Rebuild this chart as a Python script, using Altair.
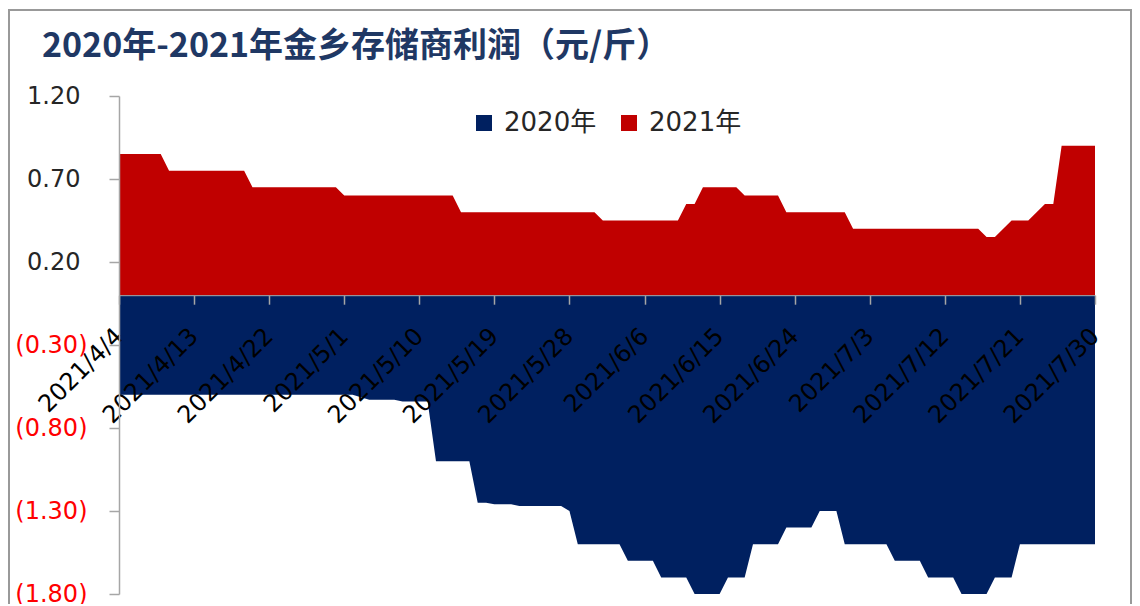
import altair as alt
import pandas as pd

# ---- data ----
start_date = "2021-04-04"
end_date = "2021-07-30"
tick_dates = ["2021-04-04", "2021-04-13", "2021-04-22", "2021-05-01", "2021-05-10",
              "2021-05-19", "2021-05-28", "2021-06-06", "2021-06-15", "2021-06-24",
              "2021-07-03", "2021-07-12", "2021-07-21", "2021-07-30"]
series_names = ["2020年", "2021年"]
series_colors = ["#002060", "#C00000"]
y_ticks = [1.2, 0.7, 0.2, -0.3, -0.8, -1.3, -1.8]
title_text = "2020年-2021年金乡存储商利润（元/斤）"

profit_2021 = [
    0.85, 0.85, 0.85, 0.85, 0.85, 0.85,
    0.75, 0.75, 0.75, 0.75, 0.75, 0.75, 0.75, 0.75, 0.75, 0.75,
    0.65, 0.65, 0.65, 0.65, 0.65, 0.65, 0.65, 0.65, 0.65, 0.65, 0.65,
    0.60, 0.60, 0.60, 0.60, 0.60, 0.60, 0.60, 0.60, 0.60, 0.60, 0.60, 0.60, 0.60, 0.60,
    0.50, 0.50, 0.50, 0.50, 0.50, 0.50, 0.50, 0.50, 0.50, 0.50, 0.50, 0.50, 0.50, 0.50, 0.50, 0.50, 0.50,
    0.45, 0.45, 0.45, 0.45, 0.45, 0.45, 0.45, 0.45, 0.45, 0.45,
    0.55, 0.55,
    0.65, 0.65, 0.65, 0.65, 0.65,
    0.60, 0.60, 0.60, 0.60, 0.60,
    0.50, 0.50, 0.50, 0.50, 0.50, 0.50, 0.50, 0.50,
    0.40, 0.40, 0.40, 0.40, 0.40, 0.40, 0.40, 0.40, 0.40, 0.40, 0.40, 0.40, 0.40, 0.40, 0.40, 0.40,
    0.35, 0.35,
    0.40,
    0.45, 0.45, 0.45,
    0.50,
    0.55, 0.55,
    0.90, 0.90, 0.90, 0.90, 0.90,
]

profit_2020 = [
    -0.60, -0.60, -0.60, -0.60, -0.60, -0.60, -0.60, -0.60, -0.60, -0.60,
    -0.60, -0.60, -0.60, -0.60, -0.60, -0.60, -0.60, -0.60, -0.60, -0.60,
    -0.60, -0.60, -0.60, -0.60, -0.60, -0.60, -0.60, -0.60, -0.60,
    -0.615,
    -0.63, -0.63, -0.63, -0.63,
    -0.64, -0.64, -0.64, -0.64,
    -1.00, -1.00, -1.00, -1.00, -1.00,
    -1.25, -1.25,
    -1.26, -1.26, -1.26,
    -1.27, -1.27, -1.27, -1.27, -1.27, -1.27,
    -1.30,
    -1.50, -1.50, -1.50, -1.50, -1.50, -1.50,
    -1.60, -1.60, -1.60, -1.60,
    -1.70, -1.70, -1.70, -1.70,
    -1.80, -1.80, -1.80, -1.80,
    -1.70, -1.70, -1.70,
    -1.50, -1.50, -1.50, -1.50,
    -1.40, -1.40, -1.40, -1.40,
    -1.30, -1.30, -1.30,
    -1.50, -1.50, -1.50, -1.50, -1.50, -1.50,
    -1.60, -1.60, -1.60, -1.60,
    -1.70, -1.70, -1.70, -1.70,
    -1.80, -1.80, -1.80, -1.80,
    -1.70, -1.70, -1.70,
    -1.50, -1.50, -1.50, -1.50, -1.50, -1.50, -1.50, -1.50, -1.50, -1.50,
]

dates = pd.date_range(start_date, end_date, freq="D").strftime("%Y-%m-%d").tolist()

df = pd.DataFrame({
    "date": dates + dates,
    "series": [series_names[0]] * len(dates) + [series_names[1]] * len(dates),
    "value": profit_2020 + profit_2021,
})


def utc_dt(s):
    y, m, d = (int(p) for p in s.split("-"))
    return alt.DateTime(year=y, month=m, date=d, utc=True)


PLOT_W = 976
PLOT_H = 498
GRAY = "#A6A6A6"
LABEL_FONT = "DejaVu Sans, Noto Sans CJK SC"

x_axis = alt.Axis(
    values=[utc_dt(s) for s in tick_dates],
    labelExpr="utcFormat(datum.value, '%Y/%-m/%-d')",
    labelAngle=315, labelAlign="right", labelBaseline="middle",
    labelFont=LABEL_FONT, labelFontSize=24, labelColor="#000000",
    labelPadding=28, labelOverlap=False, labelBound=False, labelFlush=False,
    tickSize=9, tickColor=GRAY, tickWidth=1.5,
    domainColor=GRAY, domainWidth=1,
    offset=-PLOT_H * 1.8 / 3.0,
    grid=False, title=None, zindex=1,
)

y_axis = alt.Axis(
    values=y_ticks,
    labelExpr="datum.value < 0 ? '(' + format(-datum.value, '.2f') + ')' : format(datum.value, '.2f')",
    labelColor={"condition": {"test": "datum.value < 0", "value": "#FF0000"}, "value": "#262626"},
    labelPadding={"condition": {"test": "datum.value < 0", "value": 22}, "value": 29},
    labelFont=LABEL_FONT, labelFontSize=24,
    tickSize=10, tickColor=GRAY, tickWidth=1.5,
    domainColor=GRAY, domainWidth=1.5,
    grid=False, title=None, zindex=1,
)

area = alt.Chart(df).mark_area(interpolate="linear", opacity=1).encode(
    x=alt.X("date:T",
            scale=alt.Scale(type="utc", domain=[utc_dt(start_date), utc_dt(end_date)], nice=False),
            axis=x_axis),
    y=alt.Y("value:Q", stack=None,
            scale=alt.Scale(domain=[-1.8, 1.2], nice=False, zero=False),
            axis=y_axis),
    color=alt.Color("series:N",
                    scale=alt.Scale(domain=series_names, range=series_colors),
                    legend=alt.Legend(orient="none", legendX=352, legendY=14,
                                      direction="horizontal", title=None,
                                      symbolType="square", symbolSize=256,
                                      symbolStrokeWidth=0, symbolOpacity=1,
                                      labelFont=LABEL_FONT, labelFontSize=26,
                                      labelColor="#262626", labelOffset=7,
                                      columnPadding=19, padding=0)),
)

frame = alt.Chart(pd.DataFrame({"k": [0]})).mark_rect(
    fillOpacity=0, stroke="#999999", strokeWidth=2
).encode(
    x=alt.value(-110), x2=alt.value(1012), y=alt.value(-86), y2=alt.value(540)
)

chart = alt.layer(area, frame).properties(
    width=PLOT_W, height=PLOT_H,
    padding={"left": 111, "top": 88, "right": 37, "bottom": 10},
    autosize=alt.AutoSizeParams(type="none"),
    title=alt.Title(title_text, anchor="start", frame="group", dx=-77, dy=59,
                    font="Noto Sans CJK SC", fontSize=34, fontWeight="bold",
                    color="#1F3864"),
).configure_view(strokeWidth=0)

chart.save("out.html", embed_options={"renderer": "svg", "actions": False})
